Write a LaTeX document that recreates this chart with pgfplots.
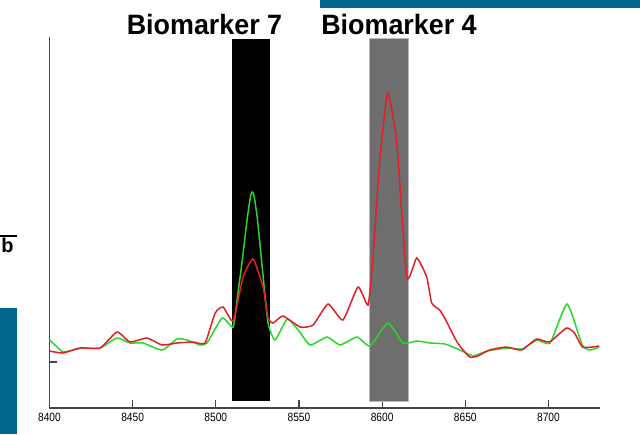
\documentclass[border=0pt]{standalone}
\usepackage{graphicx}
\usepackage{pgfplots}
\pgfplotsset{compat=1.18}
\usepackage{fontspec}
\setmainfont{Liberation Sans}
\definecolor{slideblue}{RGB}{0,102,140}
\definecolor{cred}{RGB}{228,30,36}
\definecolor{cgreen}{RGB}{40,215,40}
\definecolor{axgray}{RGB}{70,70,70}
\definecolor{bargray}{RGB}{110,110,110}
\definecolor{barborder}{RGB}{185,185,185}
\newcommand\sqz[1]{\scalebox{0.85}[1]{#1}}
\begin{document}
\begin{tikzpicture}
\begin{scope}[x=0.5pt,y=0.5pt]
\path[use as bounding box] (0,0) rectangle (640,434);
\fill[slideblue] (320,426) rectangle (640,434);
\fill[slideblue] (0,0) rectangle (16.5,126);
\draw[black, line width=0.6pt] (0,198) -- (17,198);
\node[font=\bfseries\fontsize{10}{10}\selectfont, anchor=base west, inner sep=0pt] at (1,182) {b};
\node[font=\bfseries\fontsize{14}{16}\selectfont, anchor=base, inner sep=0pt] at (204.5,399) {\scalebox{0.96}[1]{Biomarker 7}};
\node[font=\bfseries\fontsize{14}{16}\selectfont, anchor=base, inner sep=0pt] at (399,399) {\scalebox{0.96}[1]{Biomarker 4}};
\end{scope}
\begin{axis}[
  at={(24.75pt,13pt)}, anchor=south west,
  scale only axis, width=275.25pt, height=185.5pt,
  xmin=8400, xmax=8731, ymin=1, ymax=372,
  axis x line*=bottom, axis y line*=left,
  axis line style={axgray, line width=0.8pt, -},
  xtick={8400,8450,8500,8550,8600,8650,8700},
  xticklabels={\sqz{8400},\sqz{8450},\sqz{8500},\sqz{8550},\sqz{8600},\sqz{8650},\sqz{8700}},
  xticklabel style={font=\fontsize{6}{6}\selectfont, inner sep=1pt, yshift=-1.5pt},
  ytick={47}, yticklabels={},
  tick align=inside, major tick length=4pt,
  tick style={axgray, line width=0.6pt},
  clip=false,
]
\addplot[fill=black, draw=none] coordinates {(8509.8,8) (8532.6,8) (8532.6,370) (8509.8,370)} -- cycle;
\addplot[fill=bargray, draw=barborder, line width=0.5pt] coordinates {(8592.2,8) (8615.6,8) (8615.6,370) (8592.2,370)} -- cycle;
\addplot[cgreen, line width=0.75pt, smooth, tension=0.3] coordinates {
(8400,69) (8404,63) (8408.1,57) (8414.1,59) (8420.2,61) (8430.4,61) (8440.6,71) (8448.4,66) (8456.2,66) (8467.7,59) (8476.7,70) (8482.7,69) (8490.5,64) (8494.7,66) (8503.8,91) (8510.4,82) (8513,112) (8516,150) (8519,192) (8521,214) (8522,217) (8523,213) (8525,190) (8528,140) (8531.4,86) (8535.6,69) (8542.9,90) (8549.5,79) (8556.7,64) (8566.9,72) (8574.7,64) (8584.9,72) (8592.7,63) (8603.5,86) (8612.6,66) (8621,68) (8628.8,66) (8637.8,65) (8646.8,59) (8654.7,53) (8663.1,58) (8675.1,61) (8684.2,60) (8693.2,69) (8701,66) (8711.2,105) (8720.3,64) (8725.1,59) (8730.5,62)
};
\addplot[cred, line width=0.75pt, smooth, tension=0.3] coordinates {
(8400,58) (8408.1,56) (8418.3,61) (8430.4,61) (8440.6,77) (8448.4,67) (8458.6,71) (8467.7,64) (8476.7,66) (8486.3,67) (8493.5,66) (8499.6,96) (8504.4,102) (8510.4,88) (8516.4,132) (8522.4,150) (8528.4,122) (8531.4,91) (8534.4,86) (8540.4,93) (8550.7,82) (8558.5,84) (8567.5,105) (8576.4,89) (8585.5,122) (8591.5,104) (8594.4,149) (8598.6,249) (8603.4,316) (8608.8,266) (8614.8,132) (8620.8,151) (8626.8,132) (8629.8,106) (8634.6,99) (8637.6,91) (8645.4,66) (8652.6,52) (8657.4,53) (8664.6,59) (8674.8,62) (8683.8,59) (8692.8,70) (8700.6,67) (8710.8,81) (8715.6,76) (8720.4,62) (8726.4,62) (8730.5,63)
};
\end{axis}
\end{tikzpicture}
\end{document}
